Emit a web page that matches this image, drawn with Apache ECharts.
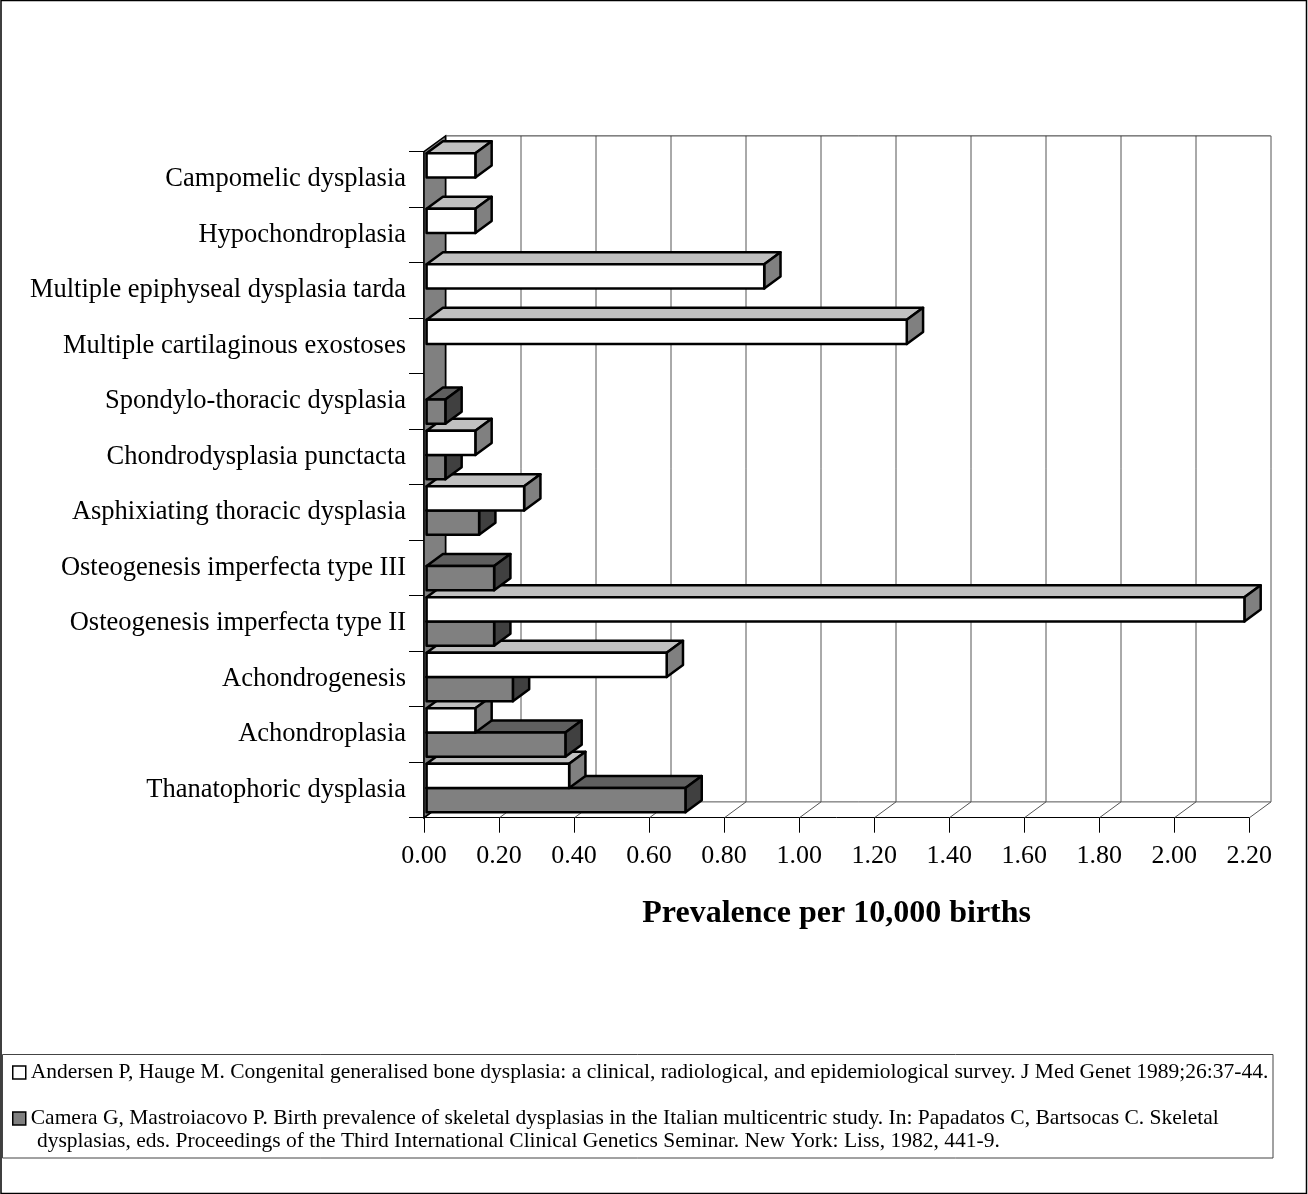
<!DOCTYPE html>
<html>
<head>
<meta charset="utf-8">
<title>Prevalence of skeletal dysplasias</title>
<script src="https://cdn.jsdelivr.net/npm/echarts@6/dist/echarts.min.js"></script>
<style>
  html, body { margin: 0; padding: 0; background: #ffffff; }
  #chart { width: 1308px; height: 1194px; }
</style>
</head>
<body>
<div id="chart"></div>
<script>
// Categories listed bottom to top, as the category axis draws them
const categories = [
  'Thanatophoric dysplasia',
  'Achondroplasia',
  'Achondrogenesis',
  'Osteogenesis imperfecta type II',
  'Osteogenesis imperfecta type III',
  'Asphixiating thoracic dysplasia',
  'Chondrodysplasia punctacta',
  'Spondylo-thoracic dysplasia',
  'Multiple cartilaginous exostoses',
  'Multiple epiphyseal dysplasia tarda',
  'Hypochondroplasia',
  'Campomelic dysplasia'
];

// Prevalence per 10,000 births (null = not reported)
const andersen = [0.38, 0.13, 0.64, 2.18, null, 0.26, 0.13, null, 1.28, 0.90, 0.13, 0.13];
const camera   = [0.69, 0.37, 0.23, 0.18, 0.18, 0.14, 0.05, 0.05, null, null, null, null];

// Value-axis ticks
const tickValues = [0, 0.2, 0.4, 0.6, 0.8, 1.0, 1.2, 1.4, 1.6, 1.8, 2.0, 2.2];

const sourceAndersen = 'Andersen P, Hauge M. Congenital generalised bone dysplasia: a clinical, radiological, and epidemiological survey. J Med Genet 1989;26:37-44.';
const sourceCamera = 'Camera G, Mastroiacovo P. Birth prevalence of skeletal dysplasias in the Italian multicentric study. In: Papadatos C, Bartsocas C. Skeletal';
const sourceCameraCont = 'dysplasias, eds. Proceedings of the Third International Clinical Genetics Seminar. New York: Liss, 1982, 441-9.';

const axisTitle = 'Prevalence per 10,000 births';

const FONT = '"Liberation Serif", "Times New Roman", serif';

// Depth of the box (back wall offset) and of the bars
const WALL_DX = 21.5, WALL_DY = -15.8;
const BAR_OX = 2.6, BAR_OY = -1.9;
const BAR_DX = 16.3, BAR_DY = -12;

const palettes = {
  upper: { front: '#ffffff', top: '#c0c0c0', side: '#808080' },
  lower: { front: '#808080', top: '#5f5f5f', side: '#404040' }
};

function makeBarRenderer(position) {
  const pal = palettes[position];
  return function (params, api) {
    const v = api.value(0);
    const i = api.value(1);
    if (v == null || isNaN(v)) return null;
    const p0 = api.coord([0, i]);
    const p1 = api.coord([v, i]);
    const band = api.size([0, 1])[1];
    const t = band * 0.436;
    const cy = p0[1] + BAR_OY;
    const y0 = position === 'upper' ? cy - t : cy;
    const y1 = position === 'upper' ? cy : cy + t;
    const xa = p0[0] + BAR_OX;
    const xb = p1[0] + BAR_OX;
    const z2 = i * 10 + (position === 'upper' ? 5 : 0);
    const edge = { stroke: '#000', lineWidth: 2.5, lineJoin: 'round' };
    return {
      type: 'group',
      children: [
        {
          type: 'polygon', z2: z2,
          shape: { points: [[xa, y0], [xb, y0], [xb + BAR_DX, y0 + BAR_DY], [xa + BAR_DX, y0 + BAR_DY]] },
          style: Object.assign({ fill: pal.top }, edge)
        },
        {
          type: 'polygon', z2: z2,
          shape: { points: [[xb, y0], [xb + BAR_DX, y0 + BAR_DY], [xb + BAR_DX, y1 + BAR_DY], [xb, y1]] },
          style: Object.assign({ fill: pal.side }, edge)
        },
        {
          type: 'rect', z2: z2 + 1,
          shape: { x: xa, y: y0, width: xb - xa, height: y1 - y0 },
          style: Object.assign({ fill: pal.front }, edge)
        }
      ]
    };
  };
}

// Back wall, floor and left wall of the 3-D box
function renderFrame(params, api) {
  const cs = params.coordSys;
  const x0 = cs.x, x1 = cs.x + cs.width;
  const yTop = cs.y, yBot = cs.y + cs.height;
  const children = [];
  const thin = { stroke: '#555', lineWidth: 1 };
  tickValues.forEach(function (v) {
    const x = Math.round(api.coord([v, 0])[0]) + 0.5;
    children.push({
      type: 'line',
      shape: { x1: x + WALL_DX, y1: yTop + WALL_DY, x2: x + WALL_DX, y2: yBot + WALL_DY },
      style: thin
    });
    children.push({
      type: 'line',
      shape: { x1: x, y1: yBot, x2: x + WALL_DX, y2: yBot + WALL_DY },
      style: thin
    });
  });
  children.push({
    type: 'polyline',
    shape: { points: [[x0 + WALL_DX, yTop + WALL_DY], [x1 + WALL_DX, yTop + WALL_DY]] },
    style: { stroke: '#333', lineWidth: 1, fill: null }
  });
  children.push({
    type: 'line',
    shape: { x1: x0 + WALL_DX, y1: yBot + WALL_DY, x2: x1 + WALL_DX, y2: yBot + WALL_DY },
    style: thin
  });
  children.push({
    type: 'polygon',
    shape: { points: [[x0, yTop], [x0 + WALL_DX, yTop + WALL_DY], [x0 + WALL_DX, yBot + WALL_DY], [x0, yBot]] },
    style: { fill: '#808080', stroke: '#000', lineWidth: 1.5 }
  });
  return { type: 'group', children: children };
}

function seriesData(values) {
  return values.map(function (v, i) { return [v == null ? '-' : v, i]; });
}

const chart = echarts.init(document.getElementById('chart'), null, { renderer: 'canvas' });

chart.setOption({
  animation: false,
  backgroundColor: '#ffffff',
  textStyle: { fontFamily: FONT },
  grid: { left: 424, right: 58.7, top: 151.7, bottom: 376.3, containLabel: false },
  xAxis: {
    type: 'value',
    min: 0, max: 2.2, interval: 0.2,
    name: axisTitle,
    nameLocation: 'middle',
    nameGap: 96,
    nameTextStyle: { fontFamily: FONT, fontSize: 32, fontWeight: 'bold', color: '#000', verticalAlign: 'middle' },
    axisLine: { show: true, lineStyle: { color: '#000', width: 1 } },
    axisTick: { show: true, length: 15, lineStyle: { color: '#000', width: 1 } },
    axisLabel: { fontFamily: FONT, fontSize: 26, color: '#000', margin: 25, formatter: function (v) { return v.toFixed(2); } },
    splitLine: { show: false }
  },
  yAxis: {
    type: 'category',
    data: categories,
    axisLine: { show: true, lineStyle: { color: '#000', width: 1.5 } },
    axisTick: { show: true, length: 15, lineStyle: { color: '#000', width: 1 } },
    axisLabel: { fontFamily: FONT, fontSize: 26.5, color: '#000', margin: 18, padding: [5, 0, 0, 0] },
    splitLine: { show: false }
  },
  legend: {
    orient: 'vertical',
    left: 12,
    top: 1061,
    padding: 0,
    itemWidth: 13,
    itemHeight: 13,
    itemGap: 23,
    selectedMode: false,
    textStyle: { fontFamily: FONT, fontSize: 21.5, color: '#000', lineHeight: 23 },
    data: [
      { name: sourceAndersen, icon: 'rect', itemStyle: { color: '#ffffff', borderColor: '#000', borderWidth: 1.5 } },
      { name: sourceCamera, icon: 'rect', itemStyle: { color: '#808080', borderColor: '#000', borderWidth: 1.5 } }
    ]
  },
  graphic: [
    {
      type: 'rect', silent: true,
      shape: { x: 1, y: 0.5, width: 1305.5, height: 1193 },
      style: { fill: null, stroke: '#000', lineWidth: 1.5 }
    },
    {
      type: 'rect', silent: true,
      shape: { x: 2.5, y: 1054.5, width: 1270.5, height: 103.5 },
      style: { fill: null, stroke: '#444', lineWidth: 1 }
    },
    {
      type: 'text', silent: true,
      x: 37, y: 1141,
      style: { text: sourceCameraCont, font: '21.5px ' + FONT, fill: '#000', verticalAlign: 'middle' }
    }
  ],
  series: [
    {
      type: 'custom',
      name: 'frame',
      silent: true,
      z: 1,
      clip: false,
      renderItem: renderFrame,
      data: [[0, 0]],
      encode: { x: 0, y: 1 }
    },
    {
      type: 'custom',
      name: sourceCamera,
      clip: false,
      itemStyle: { color: '#808080' },
      renderItem: makeBarRenderer('lower'),
      data: seriesData(camera),
      encode: { x: 0, y: 1 }
    },
    {
      type: 'custom',
      name: sourceAndersen,
      clip: false,
      itemStyle: { color: '#ffffff' },
      renderItem: makeBarRenderer('upper'),
      data: seriesData(andersen),
      encode: { x: 0, y: 1 }
    }
  ]
});
</script>
</body>
</html>
